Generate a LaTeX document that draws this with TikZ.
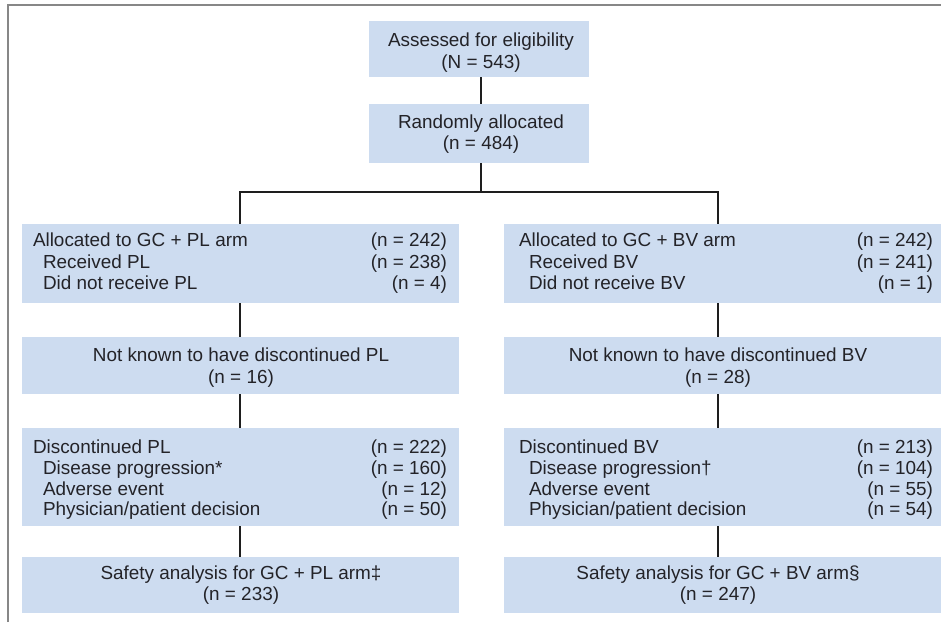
\documentclass[tikz,border=0pt]{standalone}
\usepackage{fontspec}
\setmainfont{Liberation Sans}
\definecolor{boxblue}{RGB}{205,220,240}
\definecolor{txtcol}{RGB}{35,35,40}
\definecolor{linecol}{RGB}{30,30,30}
\definecolor{framecol}{RGB}{135,135,135}
\begin{document}
\begin{tikzpicture}[x=1pt,y=-1pt,
  box/.style={fill=boxblue, draw=none, inner sep=0pt, outer sep=0pt},
  txt/.style={font=\fontsize{18.9}{21.5}\selectfont, text=txtcol, inner sep=0pt, outer sep=0pt},
  conn/.style={line width=2.8pt, draw=linecol, line join=miter},
  framel/.style={line width=2.2pt, draw=framecol}]
\useasboundingbox (0,0) rectangle (941,622);
\draw[framel] (8.3,622) -- (8.3,5.3) -- (941,5.3);

% boxes
\node[box, minimum width=220pt, minimum height=56pt] (elig) at (479,49) {};
\node[box, minimum width=220pt, minimum height=59pt] (rand) at (479,133.5) {};
\node[box, minimum width=437pt, minimum height=79pt] (L1) at (240.5,263.5) {};
\node[box, minimum width=437pt, minimum height=57pt] (L2) at (240.5,365.5) {};
\node[box, minimum width=437pt, minimum height=98pt] (L3) at (240.5,477) {};
\node[box, minimum width=437pt, minimum height=56pt] (L4) at (240.5,585) {};
\node[box, minimum width=437pt, minimum height=79pt] (R1) at (722.5,263.5) {};
\node[box, minimum width=437pt, minimum height=57pt] (R2) at (722.5,365.5) {};
\node[box, minimum width=437pt, minimum height=98pt] (R3) at (722.5,477) {};
\node[box, minimum width=437pt, minimum height=56pt] (R4) at (722.5,585) {};

% connectors
\coordinate (cT) at (481,0);
\coordinate (cL) at (240,0);
\coordinate (cR) at (718,0);
\coordinate (split) at (481,192);
\draw[conn] (elig.south -| cT) -- (rand.north -| cT);
\draw[conn] (rand.south -| cT) -- (split);
\draw[conn] (L1.north -| cL) |- (split) -| (R1.north -| cR);
\draw[conn] (L1.south -| cL) -- (L2.north -| cL);
\draw[conn] (L2.south -| cL) -- (L3.north -| cL);
\draw[conn] (L3.south -| cL) -- (L4.north -| cL);
\draw[conn] (R1.south -| cR) -- (R2.north -| cR);
\draw[conn] (R2.south -| cR) -- (R3.north -| cR);
\draw[conn] (R3.south -| cR) -- (R4.north -| cR);

% top texts
\node[txt, anchor=base] (t1) at (481,46.7) {Assessed for eligibility};
\node[txt, anchor=base] (t2) at (481,68.2) {(N = 543)};
\node[txt, anchor=base] (t3) at (481,128.3) {Randomly allocated};
\node[txt, anchor=base] (t4) at (481,149.8) {(n = 484)};

% left arm
\node[txt, anchor=base west] (l1a) at (33,246.5) {Allocated to GC + PL arm};
\node[txt, anchor=base west] (l1b) at (43,268) {Received PL};
\node[txt, anchor=base west] (l1c) at (43,289.5) {Did not receive PL};
\node[txt, anchor=base east] (l1d) at (447,246.5) {(n = 242)};
\node[txt, anchor=base east] (l1e) at (447,268) {(n = 238)};
\node[txt, anchor=base east] (l1f) at (447,289.5) {(n = 4)};

\node[txt, anchor=base] (l2a) at (241,361.7) {Not known to have discontinued PL};
\node[txt, anchor=base] (l2b) at (241,383.2) {(n = 16)};

\node[txt, anchor=base west] (l3a) at (33,453.7) {Discontinued PL};
\node[txt, anchor=base west] (l3b) at (43,474.4) {Disease progression*};
\node[txt, anchor=base west] (l3c) at (43,495.1) {Adverse event};
\node[txt, anchor=base west] (l3d) at (43,515.8) {Physician/patient decision};
\node[txt, anchor=base east] (l3e) at (447,453.7) {(n = 222)};
\node[txt, anchor=base east] (l3f) at (447,474.4) {(n = 160)};
\node[txt, anchor=base east] (l3g) at (447,495.1) {(n = 12)};
\node[txt, anchor=base east] (l3h) at (447,515.8) {(n = 50)};

\node[txt, anchor=base] (l4a) at (241,579) {Safety analysis for GC + PL arm‡};
\node[txt, anchor=base] (l4b) at (241,600.5) {(n = 233)};

% right arm
\node[txt, anchor=base west] (r1a) at (519,246.5) {Allocated to GC + BV arm};
\node[txt, anchor=base west] (r1b) at (529,268) {Received BV};
\node[txt, anchor=base west] (r1c) at (529,289.5) {Did not receive BV};
\node[txt, anchor=base east] (r1d) at (933,246.5) {(n = 242)};
\node[txt, anchor=base east] (r1e) at (933,268) {(n = 241)};
\node[txt, anchor=base east] (r1f) at (933,289.5) {(n = 1)};

\node[txt, anchor=base] (r2a) at (718,361.7) {Not known to have discontinued BV};
\node[txt, anchor=base] (r2b) at (718,383.2) {(n = 28)};

\node[txt, anchor=base west] (r3a) at (519,453.7) {Discontinued BV};
\node[txt, anchor=base west] (r3b) at (529,474.4) {Disease progression†};
\node[txt, anchor=base west] (r3c) at (529,495.1) {Adverse event};
\node[txt, anchor=base west] (r3d) at (529,515.8) {Physician/patient decision};
\node[txt, anchor=base east] (r3e) at (933,453.7) {(n = 213)};
\node[txt, anchor=base east] (r3f) at (933,474.4) {(n = 104)};
\node[txt, anchor=base east] (r3g) at (933,495.1) {(n = 55)};
\node[txt, anchor=base east] (r3h) at (933,515.8) {(n = 54)};

\node[txt, anchor=base] (r4a) at (718,579) {Safety analysis for GC + BV arm§};
\node[txt, anchor=base] (r4b) at (718,600.5) {(n = 247)};
\end{tikzpicture}
\end{document}
